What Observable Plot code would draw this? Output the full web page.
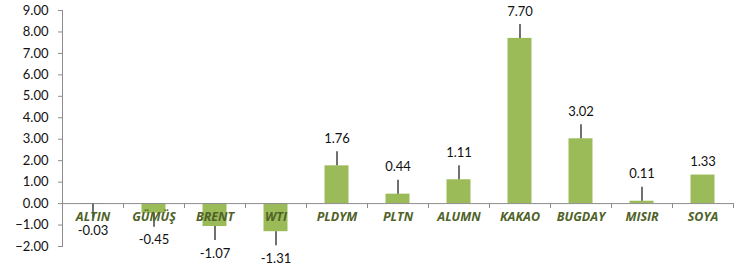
<!DOCTYPE html>
<html>
<head>
<meta charset="utf-8">
<script src="https://cdn.jsdelivr.net/npm/d3@7"></script>
<script src="https://cdn.jsdelivr.net/npm/@observablehq/plot@0.6"></script>
<style>
  html, body { margin: 0; padding: 0; background: #fff; }
  g[aria-label="y-axis tick"] { stroke: #8c8c8c; }
</style>
</head>
<body>
<div id="chart"></div>
<script>
const names = ["ALTIN", "GÜMÜŞ", "BRENT", "WTI", "PLDYM", "PLTN", "ALUMN", "KAKAO", "BUGDAY", "MISIR", "SOYA"];
const changes = [-0.03, -0.45, -1.07, -1.31, 1.76, 0.44, 1.11, 7.70, 3.02, 0.11, 1.33];
const hasLeader = [true, true, true, true, true, true, true, true, true, true, false];
const yTicks = [-2, -1, 0, 1, 2, 3, 4, 5, 6, 7, 8, 9];

const W = 749, H = 266;
const mL = 62, mR = 16, mT = 10, mB = 20;
const yDomain = [-2, 9];
const step = (W - mL - mR) / names.length;
const unitsPerPx = (yDomain[1] - yDomain[0]) / (H - mT - mB);

const data = names.map((n, i) => ({name: n, value: changes[i], leader: hasLeader[i]}));
const leaderLen = 14 * unitsPerPx;

const chart = Plot.plot({
  width: W,
  height: H,
  marginLeft: mL,
  marginRight: mR,
  marginTop: mT,
  marginBottom: mB,
  style: {fontFamily: "Lato, 'Open Sans', sans-serif", fontSize: "12.5px", background: "#fff", color: "#111"},
  x: {domain: names, padding: 0, axis: null},
  y: {domain: yDomain, axis: null},
  marks: [
    Plot.barY(data, {x: "name", y: "value", fill: "#9BBB59", insetLeft: 18.5, insetRight: 18.5}),
    Plot.frame({anchor: "left", stroke: "#8c8c8c"}),
    Plot.axisY({ticks: yTicks, tickFormat: d3.format(".2f"), tickSize: 4, tickPadding: 10, fontSize: 13, label: null}),
    Plot.ruleY([0], {stroke: "#8c8c8c"}),
    Plot.ruleX(names, {x: d => d, dx: -step / 2, y1: 0, y2: -5 * unitsPerPx, stroke: "#8c8c8c"}),
    Plot.ruleX([names[names.length - 1]], {x: d => d, dx: step / 2, y1: 0, y2: -5 * unitsPerPx, stroke: "#8c8c8c"}),
    Plot.ruleX(data.filter(d => d.leader), {
      x: "name",
      y1: "value",
      y2: d => d.value + (d.value >= 0 ? leaderLen : -leaderLen),
      stroke: "#111",
      strokeWidth: 1.2
    }),
    Plot.text(data, {
      x: "name", y: 0, text: "name", dy: 13.5,
      fill: "#4F6228", fontWeight: "bold", fontStyle: "italic", fontSize: 12.5,
      fontFamily: "'Open Sans', sans-serif"
    }),
    ...data.map(d => Plot.text([d], {
      x: "name", y: "value", text: e => e.value.toFixed(2),
      dy: (d.value >= 0 ? -1 : 1) * (d.leader ? 27 : 13),
      fill: "#111", fontSize: 13
    }))
  ]
});
document.getElementById("chart").appendChild(chart);
</script>
</body>
</html>
